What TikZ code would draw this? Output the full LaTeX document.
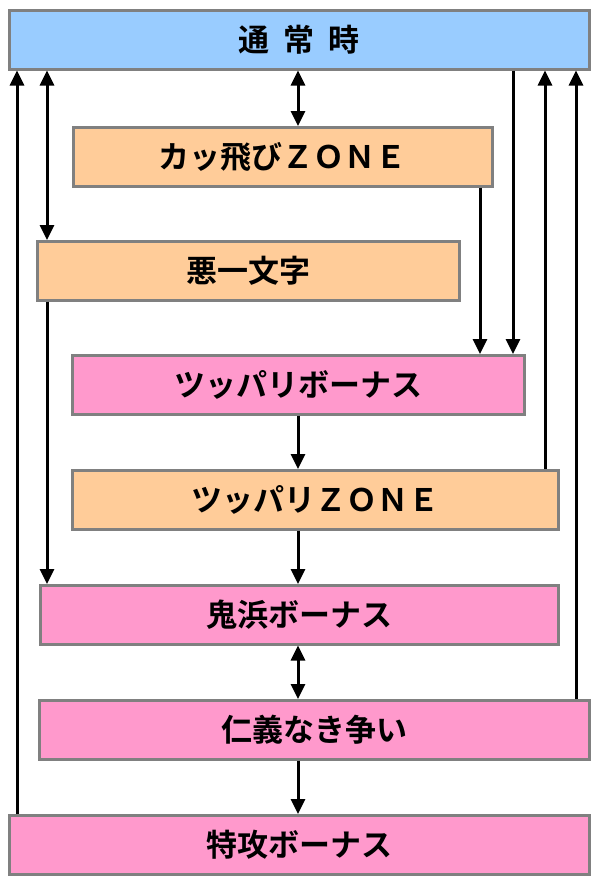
\documentclass[tikz,border=0pt]{standalone}
\usepackage{fontspec}
\newfontfamily\jp{Noto Sans CJK JP}[BoldFont={Noto Sans CJK JP Bold}]
\usetikzlibrary{arrows.meta}
\definecolor{bluebox}{HTML}{99CCFF}
\definecolor{orangebox}{HTML}{FFCC99}
\definecolor{pinkbox}{HTML}{FF99CC}
\definecolor{edge}{HTML}{808080}
\tikzset{
  box/.style={draw=edge, line width=2.5pt, minimum height=59pt, inner sep=0pt,
    font=\jp\bfseries\fontsize{31}{31}\selectfont, anchor=north west},
  conn/.style={line width=3pt, -{Triangle[width=14pt,length=15pt]}},
  dconn/.style={line width=3pt, {Triangle[width=14pt,length=15pt]}-{Triangle[width=14pt,length=15pt]}},
}
\begin{document}
\begin{tikzpicture}[x=1pt,y=-1pt]
\useasboundingbox (0,0) rectangle (598,881);
\node[box, fill=bluebox, minimum width=580pt] (tsujo) at (8,9) {通\hspace{0.45em}常\hspace{0.45em}時};
\node[box, fill=orangebox, minimum width=419pt] (kappa) at (72,126) {カッ飛びＺＯＮＥ};
\node[box, fill=orangebox, minimum width=422pt] (aku) at (36,240) {悪一文字};
\node[box, fill=pinkbox, minimum width=452pt] (tbonus) at (71,354) {ツッパリボーナス};
\node[box, fill=orangebox, minimum width=486pt] (tzone) at (71,469) {ツッパリＺＯＮＥ};
\node[box, fill=pinkbox, minimum width=518pt] (oni) at (39,584) {鬼浜ボーナス};
\node[box, fill=pinkbox, minimum width=550pt] (jingi) at (38,699) {仁義なき争い};
\node[box, fill=pinkbox, minimum width=580pt] (tokko) at (8,814) {特攻ボーナス};
\coordinate (xa) at (17,0);
\coordinate (xb) at (47,0);
\coordinate (xc) at (298,0);
\coordinate (xd) at (480,0);
\coordinate (xe) at (513,0);
\coordinate (xf) at (545,0);
\coordinate (xg) at (576,0);
\draw[conn] (tokko.north -| xa) -- (tsujo.south -| xa);
\draw[dconn] (tsujo.south -| xb) -- (aku.north -| xb);
\draw[conn] (aku.south -| xb) -- (oni.north -| xb);
\draw[dconn] (tsujo.south -| xc) -- (kappa.north -| xc);
\draw[conn] (kappa.south -| xd) -- (tbonus.north -| xd);
\draw[conn] (tsujo.south -| xe) -- (tbonus.north -| xe);
\draw[conn] (tzone.north -| xf) -- (tsujo.south -| xf);
\draw[conn] (jingi.north -| xg) -- (tsujo.south -| xg);
\draw[conn] (tbonus.south -| xc) -- (tzone.north -| xc);
\draw[conn] (tzone.south -| xc) -- (oni.north -| xc);
\draw[dconn] (oni.south -| xc) -- (jingi.north -| xc);
\draw[conn] (jingi.south -| xc) -- (tokko.north -| xc);
\end{tikzpicture}
\end{document}
